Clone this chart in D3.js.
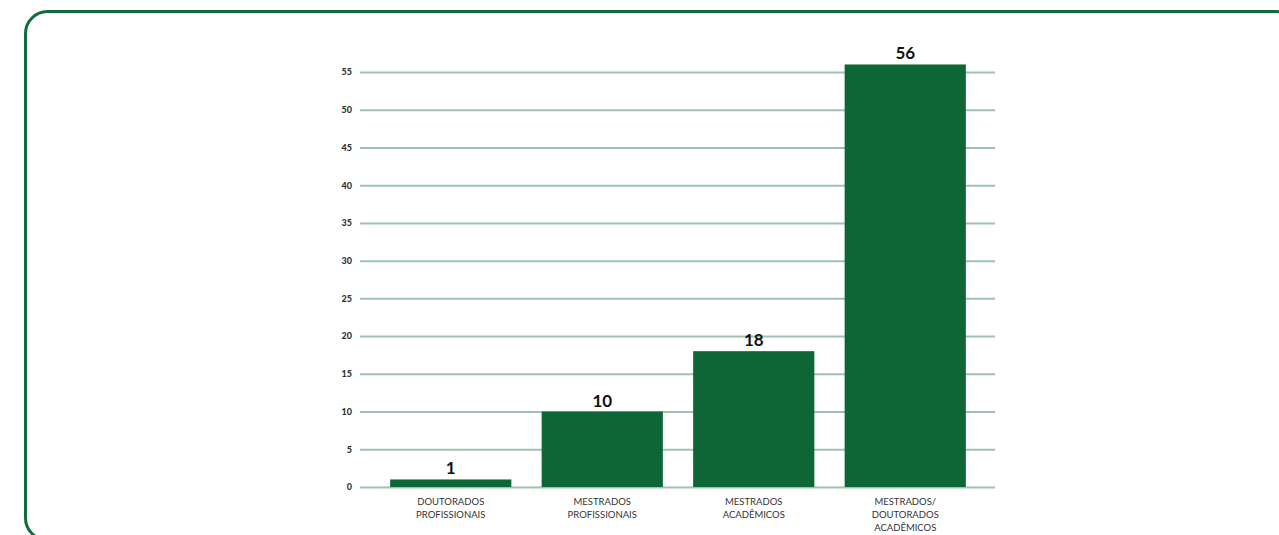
<!DOCTYPE html>
<html><head><meta charset="utf-8">
<script src="https://cdn.jsdelivr.net/npm/d3@7"></script>
<style>body{margin:0;background:#fff;}svg{display:block;}</style>
</head><body>
<svg id="c" width="1279" height="535"></svg>
<script>
const categories = [["DOUTORADOS","PROFISSIONAIS"],["MESTRADOS","PROFISSIONAIS"],["MESTRADOS","ACADÊMICOS"],["MESTRADOS/","DOUTORADOS","ACADÊMICOS"]];
const values = [1, 10, 18, 56];
const yTicks = [0,5,10,15,20,25,30,35,40,45,50,55];

const svg = d3.select("#c");
svg.append("rect").attr("x",25.5).attr("y",11.5).attr("width",1272).attr("height",528.5)
  .attr("rx",22).attr("fill","none").attr("stroke","#126b3c").attr("stroke-width",3);

const y = d3.scaleLinear().domain([0,55]).range([487,72]);
const x = d3.scaleBand().domain(d3.range(values.length)).range([375,981]).paddingInner(0.2).paddingOuter(0.1);

const yAxis = svg.append("g").attr("transform","translate(360,0)")
  .call(d3.axisLeft(y).tickValues(yTicks).tickSize(-635).tickPadding(8));
yAxis.select(".domain").remove();
yAxis.selectAll(".tick line").attr("stroke","#9fc2ae").attr("stroke-width",2);
yAxis.selectAll(".tick text").attr("font-family","Lato, sans-serif").attr("font-size",9)
  .attr("font-weight","900").attr("fill","#333");

svg.append("g").selectAll("rect").data(values).join("rect")
  .attr("x",(d,i)=>x(i)).attr("width",x.bandwidth())
  .attr("y",d=>y(d)).attr("height",d=>y(0)-y(d)).attr("fill","#0e6636");

svg.append("g").selectAll("text").data(values).join("text")
  .attr("x",(d,i)=>x(i)+x.bandwidth()/2).attr("y",d=>y(d)-5)
  .attr("text-anchor","middle").attr("font-family","Lato, sans-serif")
  .attr("font-weight","bold").attr("font-size",17).attr("fill","#111").text(d=>d);

const cl = svg.append("g").selectAll("text").data(categories).join("text")
  .attr("text-anchor","middle").attr("font-family","Lato, sans-serif")
  .attr("font-size",9.5).attr("fill","#333");
cl.each(function(lines,i){
  d3.select(this).selectAll("tspan").data(lines).join("tspan")
    .attr("x",x(i)+x.bandwidth()/2).attr("y",(l,j)=>505+j*13).text(l=>l);
});
</script>
</body></html>
